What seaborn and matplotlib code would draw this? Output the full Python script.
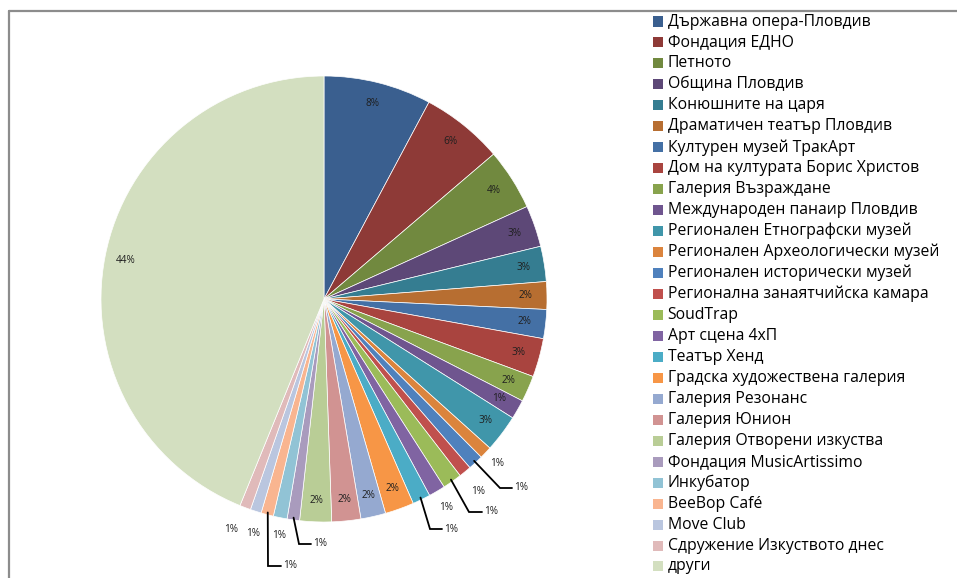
import numpy as np
import matplotlib
matplotlib.use("Agg")
import matplotlib.pyplot as plt
import seaborn as sns
from matplotlib.patches import Rectangle
from matplotlib.lines import Line2D

categories = [
    "Държавна опера-Пловдив", "Фондация ЕДНО", "Петното", "Община Пловдив",
    "Конюшните на царя", "Драматичен театър Пловдив", "Културен музей ТракАрт",
    "Дом на културата Борис Христов", "Галерия Възраждане",
    "Международен панаир Пловдив", "Регионален Етнографски музей",
    "Регионален Археологически музей", "Регионален исторически музей",
    "Регионална занаятчийска камара", "SoudTrap", "Арт сцена 4хП", "Театър Хенд",
    "Градска художествена галерия", "Галерия Резонанс", "Галерия Юнион",
    "Галерия Отворени изкуства", "Фондация MusicArtissimo", "Инкубатор",
    "BeeBop Café", "Move Club", "Сдружение Изкуството днес", "други",
]
shares = [7.8, 5.95, 4.45, 3.0, 2.55, 2.0, 2.1, 2.8, 1.9, 1.4, 2.7, 0.9, 1.1,
          0.9, 1.4, 1.2, 1.3, 2.1, 1.8, 2.1, 2.3, 0.9, 1.0, 0.9, 0.8, 0.8, 43.85]
colors = ["#3A5F8F", "#8E3A37", "#71893F", "#5D4877", "#357D91", "#B76E31",
          "#4470A5", "#A9443F", "#88A34D", "#6F558F", "#4096AA", "#DB843D",
          "#4F81BD", "#C0504D", "#9BBB59", "#8064A2", "#4BACC6", "#F79646",
          "#95A9D0", "#D19392", "#B9CD96", "#A99BBD", "#91C3D5", "#F9B590",
          "#BAC6DF", "#E0BABA", "#D3DFC0"]

sns.set_theme(style="white")
plt.rcParams["font.family"] = ["Open Sans", "DejaVu Sans"]
palette = sns.color_palette(colors)

W, H = 957, 578
fig = plt.figure(figsize=(W / 100, H / 100), dpi=100)
fig.patch.set_facecolor("white")
cx, cy, R = 324, 299, 223
ax = fig.add_axes([(cx - R) / W, (H - cy - R) / H, 2 * R / W, 2 * R / H])
wedges, _ = ax.pie(shares, colors=palette, startangle=90, counterclock=False,
                   radius=1, wedgeprops=dict(edgecolor="white", linewidth=0.5))
ax.set_xlim(-1, 1)
ax.set_ylim(-1, 1)
ax.set_aspect("equal")
ax.axis("off")


def p2d(px, py):
    return ((px - cx) / R, (cy - py) / R)


# label layout (pixel positions of outside labels)
outside = {11: (497, 463), 13: (478, 491), 15: (446, 508), 22: (279, 536),
           24: (253, 534), 25: (231, 530)}
leaders = {12: ((500, 488), (512, 488)), 14: ((469, 512), (482, 512)),
           16: ((430, 529), (442, 529)), 21: ((299, 544), (311, 544)),
           23: ((268, 566), (281, 566))}

total = sum(shares)
lab_kw = dict(fontsize=7.2, color="#1f1f1f")
for i, w in enumerate(wedges):
    pct = f"{shares[i] / total * 100:.0f}%"
    th = np.deg2rad((w.theta1 + w.theta2) / 2)
    if i in outside:
        x, y = p2d(*outside[i])
        ax.text(x, y, pct, ha="center", va="center", **lab_kw)
    elif i in leaders:
        elb, end = leaders[i]
        sx, sy = np.cos(th) * 0.99, np.sin(th) * 0.99
        ex, ey = p2d(*elb)
        fx, fy = p2d(*end)
        ax.plot([sx, ex, fx], [sy, ey, fy], color="black", lw=1.3,
                solid_joinstyle="miter", clip_on=False)
        ax.text(fx + 2.5 / R, fy, pct, ha="left", va="center", **lab_kw)
    else:
        ax.text(0.905 * np.cos(th), 0.905 * np.sin(th), pct, ha="center",
                va="center", **lab_kw)

# chart frame
fig.add_artist(Line2D([8.5 / W, 8.5 / W], [0, 1 - 10.5 / H],
                      transform=fig.transFigure, color="#8c8c8c", lw=1.6))
fig.add_artist(Line2D([8.5 / W, 1], [1 - 10.5 / H, 1 - 10.5 / H],
                      transform=fig.transFigure, color="#8c8c8c", lw=1.6))

# legend
for i, cat in enumerate(categories):
    yc = 21.5 + 20.96 * i
    fig.add_artist(Rectangle((653 / W, 1 - (yc + 5) / H), 10 / W, 10 / H,
                             facecolor=palette[i], edgecolor="none",
                             transform=fig.transFigure))
    fig.text(667.5 / W, 1 - yc / H, cat, ha="left", va="center",
             fontsize=11.3, color="black")

fig.savefig("out.png", dpi=100, facecolor="white")
